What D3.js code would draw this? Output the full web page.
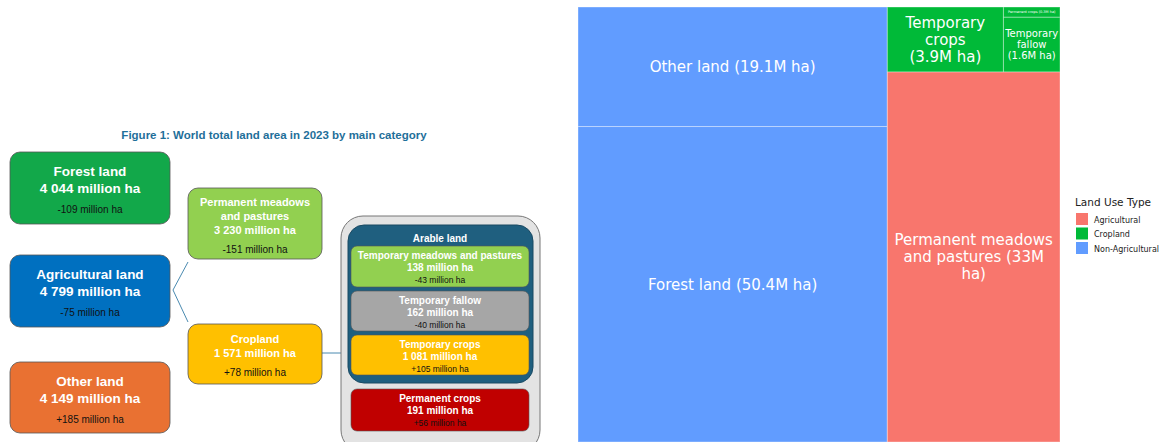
<!DOCTYPE html><html><head><meta charset="utf-8">
<script src="https://cdn.jsdelivr.net/npm/d3@7"></script>
<style>body{margin:0;background:#fff}text{font-family:"Liberation Sans",Arial,sans-serif}</style></head>
<body><svg id="c" width="1161" height="442"></svg>
<script>
// Treemap data
const leafNames=["Other land","Forest land","Temporary crops","Permanent crops","Temporary fallow","Permanent meadows and pastures"];
const leafValues=[19.1,50.4,3.9,0.3,1.6,33];
const leafGroups=["Non-Agricultural","Non-Agricultural","Cropland","Cropland","Cropland","Agricultural"];
const legendTypes=["Agricultural","Cropland","Non-Agricultural"];
const legendColors=["#F8766D","#00BA38","#619CFF"];
// Infographic boxes
const boxLabels=[["Forest land","4 044 million ha","-109 million ha"],["Agricultural land","4 799 million ha","-75 million ha"],["Other land","4 149 million ha","+185 million ha"],
["Permanent meadows","and pastures","3 230 million ha","-151 million ha"],["Cropland","1 571 million ha","+78 million ha"]];
const arableLabels=[["Temporary meadows and pastures","138 million ha","-43 million ha"],["Temporary fallow","162 million ha","-40 million ha"],["Temporary crops","1 081 million ha","+105 million ha"],["Permanent crops","191 million ha","+56 million ha"]];

const svg=d3.select("#c");
const color=d3.scaleOrdinal(legendTypes,legendColors);
const L=i=>({name:leafNames[i],value:leafValues[i],group:leafGroups[i]});
const tree={name:"root",children:[
 {name:"na",children:[L(0),L(1)]},
 {name:"right",children:[
   {name:"crop",children:[L(2),{name:"cr2",children:[L(3),L(4)]}]},
   L(5)]}]};
const root=d3.hierarchy(tree).sum(d=>d.value||0);
function tile(node,x0,y0,x1,y1){
  const n=node.data.name;
  if(n==="root"||n==="crop") d3.treemapDice(node,x0,y0,x1,y1); else d3.treemapSlice(node,x0,y0,x1,y1);
}
d3.treemap().tile(tile).size([482,435]).round(false)(root);
const g=svg.append("g").attr("transform","translate(578,7)");
const leaves=root.leaves();
g.selectAll("rect").data(leaves).join("rect").attr("x",d=>d.x0).attr("y",d=>d.y0)
 .attr("width",d=>d.x1-d.x0).attr("height",d=>d.y1-d.y0).attr("fill",d=>color(d.data.group))
 .attr("stroke","rgba(255,255,255,0.35)").attr("stroke-width",1);
const labelSpec={"Other land":{lines:["Other land (19.1M ha)"],fs:15},"Forest land":{lines:["Forest land (50.4M ha)"],fs:15},
"Temporary crops":{lines:["Temporary","crops","(3.9M ha)"],fs:15},"Temporary fallow":{lines:["Temporary","fallow","(1.6M ha)"],fs:10},
"Permanent crops":{lines:["Permanent crops (0.3M ha)"],fs:3.5},"Permanent meadows and pastures":{lines:["Permanent meadows","and pastures (33M","ha)"],fs:15}};
leaves.forEach(d=>{const s=labelSpec[d.data.name];const cx=(d.x0+d.x1)/2,cy=(d.y0+d.y1)/2;const lh=s.fs*1.12;
 s.lines.forEach((t,i)=>g.append("text").attr("x",cx).attr("y",cy+(i-(s.lines.length-1)/2)*lh).attr("dy","0.35em")
 .attr("text-anchor","middle").attr("fill","#fff").style("font-family","DejaVu Sans").attr("font-size",s.fs).text(t));});
// legend
const lg=svg.append("g").attr("transform","translate(1075,197)");
lg.append("text").attr("y",9).attr("font-size",10.5).attr("fill","#222").style("font-family","DejaVu Sans").text("Land Use Type");
legendTypes.forEach((t,i)=>{lg.append("rect").attr("x",1).attr("y",16+i*14.5).attr("width",12).attr("height",12).attr("fill",legendColors[i]);
 lg.append("text").attr("x",19).attr("y",25.5+i*14.5).attr("font-size",8).attr("fill","#222").style("font-family","DejaVu Sans").text(t);});

// infographic
const ig=svg.append("g");
ig.append("text").attr("x",274).attr("y",139).attr("text-anchor","middle").attr("font-size",11.5).attr("font-weight","bold").attr("fill","#1f6f9a").text("Figure 1: World total land area in 2023 by main category");
const boxes=[{x:10,y:152,w:160,h:72,c:"#12a84a"},{x:10,y:255,w:160,h:72,c:"#0070c0"},{x:10,y:362,w:160,h:71,c:"#e97132"},{x:188,y:188,w:134,h:71,c:"#92d050"},{x:188,y:324,w:134,h:60,c:"#ffc000"}];
ig.append("path").attr("d","M173,290 L188,262 M173,290 L188,322 M322,353 L343,353").attr("stroke","#4a8ab0").attr("fill","none").attr("stroke-width",1);
boxes.forEach((b,i)=>{ig.append("rect").attr("x",b.x).attr("y",b.y).attr("width",b.w).attr("height",b.h).attr("rx",10).attr("fill",b.c).attr("stroke","#555").attr("stroke-width",0.8);
 const ls=boxLabels[i];const big=i<3;const cx=b.x+b.w/2;
 let ys; if(big) ys=[b.y+19,b.y+36,b.y+57]; else if(i===3) ys=[b.y+14,b.y+28,b.y+42,b.y+61]; else ys=[b.y+15,b.y+29,b.y+48];
 ls.forEach((t,j)=>{const last=j===ls.length-1;ig.append("text").attr("x",cx).attr("y",ys[j]).attr("dy","0.35em").attr("text-anchor","middle")
  .attr("font-size",last?10:(big?13.5:11)).attr("font-weight",last?"normal":"bold").attr("fill",last?"#111":"#fff").text(t);});});
ig.append("rect").attr("x",341).attr("y",216).attr("width",199).attr("height",236).attr("rx",22).attr("fill","#e3e3e3").attr("stroke","#777").attr("stroke-width",1);
ig.append("rect").attr("x",348).attr("y",225).attr("width",185).attr("height",158).attr("rx",16).attr("fill","#1f5f7f").attr("stroke","#1a4a63");
ig.append("text").attr("x",440).attr("y",238).attr("dy","0.35em").attr("text-anchor","middle").attr("font-size",10).attr("font-weight","bold").attr("fill","#fff").text("Arable land");
const ab=[{y:246,h:41,c:"#92d050"},{y:291,h:40,c:"#a6a6a6"},{y:335,h:40,c:"#ffc000"},{y:389,h:42,c:"#c00000"}];
ab.forEach((b,i)=>{ig.append("rect").attr("x",351).attr("y",b.y).attr("width",178).attr("height",b.h).attr("rx",6).attr("fill",b.c).attr("stroke","#555").attr("stroke-width",0.6);
 arableLabels[i].forEach((t,j)=>{ig.append("text").attr("x",440).attr("y",b.y+9+j*12.5).attr("dy","0.35em").attr("text-anchor","middle")
  .attr("font-size",j===2?8.5:10).attr("font-weight",j===2?"normal":"bold").attr("fill",j===2?"#111":"#fff").text(t);});});
</script></body></html>
